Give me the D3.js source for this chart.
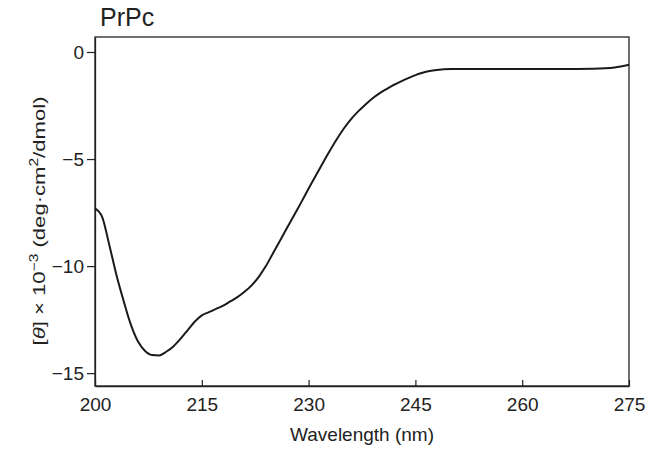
<!DOCTYPE html>
<html><head><meta charset="utf-8">
<script src="https://cdn.jsdelivr.net/npm/d3@7"></script>
<style>
body{margin:0;background:#fff;}
text{font-family:"Liberation Sans",Arial,sans-serif;fill:#222;}
</style></head>
<body><svg id="c" width="658" height="452"></svg>
<script>
const wavelength = [200,201,202,203,204,205,206,207,208,209,210,211,212,213,214,215,216,217,218,219,220,221,222,223,224,225,226,227,228,229,230,231,232,233,234,235,236,237,238,239,240,241,242,243,244,245,246,247,248,250,255,260,265,270,273,275];
const ellipticity = [-7.3,-7.7,-9.0,-10.4,-11.6,-12.7,-13.5,-13.95,-14.15,-14.17,-14.0,-13.75,-13.4,-13.0,-12.6,-12.3,-12.15,-12.0,-11.85,-11.65,-11.45,-11.2,-10.9,-10.5,-10.0,-9.4,-8.8,-8.2,-7.6,-7.0,-6.38,-5.78,-5.18,-4.6,-4.05,-3.55,-3.12,-2.76,-2.45,-2.16,-1.92,-1.72,-1.53,-1.37,-1.22,-1.08,-0.97,-0.89,-0.84,-0.8,-0.8,-0.8,-0.8,-0.78,-0.72,-0.6];
const xTicks = [200,215,230,245,260,275];
const yTicks = [0,-5,-10,-15];
const title = "PrPc";
const xLabel = "Wavelength (nm)";

const svg = d3.select("#c");
const pL = 95, pR = 629, pT = 37, pB = 386;
const x = d3.scaleLinear().domain([200,275]).range([pL,pR]);
const y = d3.scaleLinear().domain([-15.6,0.7]).range([pB,pT]);

svg.append("rect").attr("x",pL).attr("y",pT).attr("width",pR-pL).attr("height",pB-pT)
  .attr("fill","none").attr("stroke","#222").attr("stroke-width",1.3);

const fmt = d => d < 0 ? "\u2212" + Math.abs(d) : String(d);

const xa = svg.append("g").attr("transform",`translate(0,${pB})`)
  .call(d3.axisBottom(x).tickValues(xTicks).tickSizeInner(-6).tickSizeOuter(0).tickPadding(12));
const ya = svg.append("g").attr("transform",`translate(${pL},0)`)
  .call(d3.axisLeft(y).tickValues(yTicks).tickFormat(fmt).tickSize(8).tickSizeOuter(0).tickPadding(3));
[xa,ya].forEach(g=>{
  g.select(".domain").attr("stroke","#222").attr("stroke-width",1.3);
  g.selectAll(".tick line").attr("stroke","#222").attr("stroke-width",1.2);
  g.selectAll("text").style("font-size","19px").attr("fill","#222");
});

const line = d3.line().x((d,i)=>x(wavelength[i])).y(d=>y(d)).curve(d3.curveMonotoneX);
svg.append("path").datum(ellipticity).attr("d",line).attr("fill","none")
  .attr("stroke","#1a1a1a").attr("stroke-width",2);

svg.append("text").attr("x",100).attr("y",26).style("font-size","25px").attr("fill","#333").text(title);
svg.append("text").attr("x",(pL+pR)/2).attr("y",441).attr("text-anchor","middle")
  .style("font-size","19px").text(xLabel);

const yl = svg.append("text").attr("transform","translate(45,221) rotate(-90) scale(1.3,1)")
  .attr("text-anchor","middle").style("font-size","17px");
yl.append("tspan").text("[");
yl.append("tspan").style("font-style","italic").text("\u03b8");
yl.append("tspan").text("] \u00d7 10");
yl.append("tspan").attr("dy","-7").style("font-size","12px").text("\u22123");
yl.append("tspan").attr("dy","7").text(" (deg\u00b7cm");
yl.append("tspan").attr("dy","-7").style("font-size","12px").text("2");
yl.append("tspan").attr("dy","7").text("/dmol)");
</script></body></html>
